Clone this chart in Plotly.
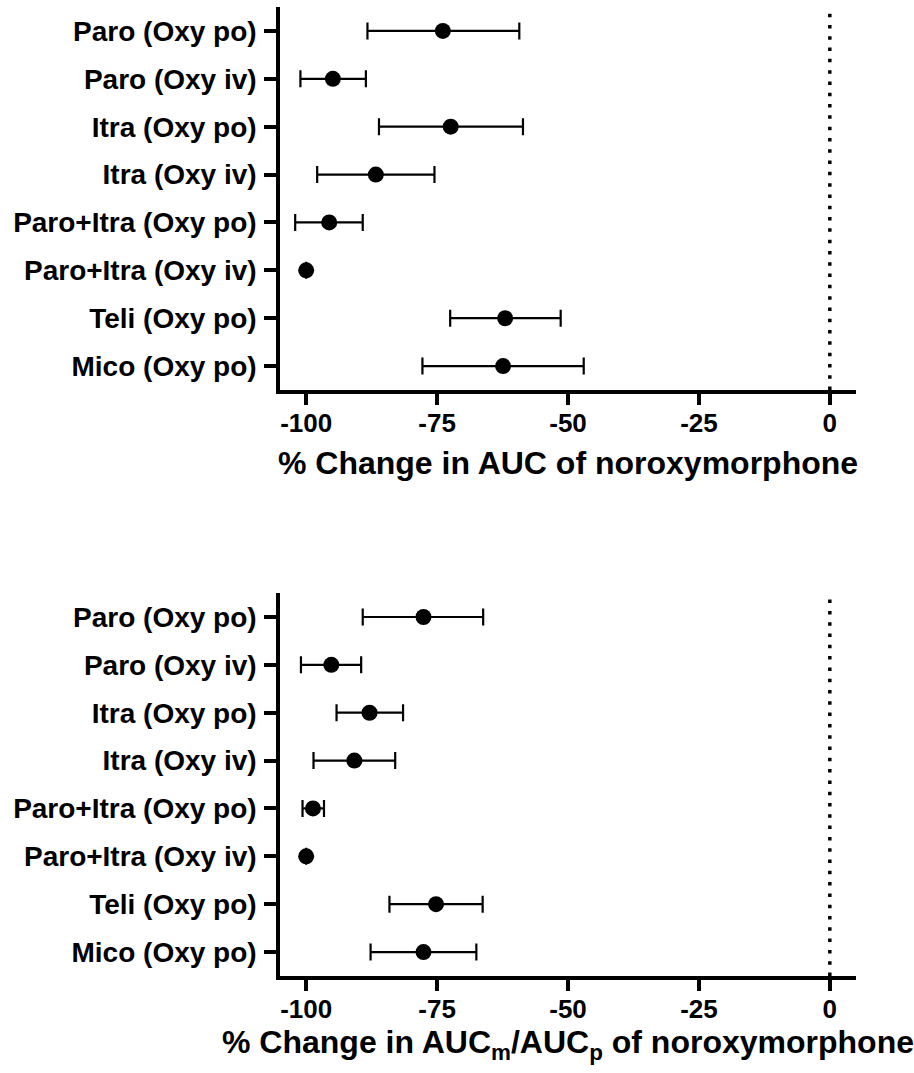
import plotly.graph_objects as go

categories = ["Paro (Oxy po)", "Paro (Oxy iv)", "Itra (Oxy po)", "Itra (Oxy iv)",
              "Paro+Itra (Oxy po)", "Paro+Itra (Oxy iv)", "Teli (Oxy po)", "Mico (Oxy po)"]

# Panel 1: % change in AUC of noroxymorphone (mean, lower CI, upper CI)
auc_mean = [-73.9, -94.9, -72.4, -86.7, -95.6, -100.0, -62.0, -62.4]
auc_low = [-88.3, -101.1, -86.1, -97.9, -102.1, None, -72.5, -77.8]
auc_high = [-59.3, -88.6, -58.6, -75.5, -89.2, None, -51.4, -47.0]

# Panel 2: % change in AUCm/AUCp of noroxymorphone
ratio_mean = [-77.6, -95.2, -87.9, -90.8, -98.7, -100.0, -75.2, -77.6]
ratio_low = [-89.2, -101.0, -94.2, -98.6, -100.7, None, -84.1, -87.7]
ratio_high = [-66.2, -89.5, -81.5, -83.0, -96.6, None, -66.3, -67.5]

x_ticks = [-100, -75, -50, -25, 0]
x_range = [-105, 5]

title1 = "% Change in AUC of noroxymorphone"
title2 = "% Change in AUC<sub>m</sub>/AUC<sub>p</sub> of noroxymorphone"


def err(mean, low, high):
    plus = [h - m if h is not None else None for m, h in zip(mean, high)]
    minus = [m - l if l is not None else None for m, l in zip(mean, low)]
    return plus, minus


fig = go.Figure()
for mean, low, high, xa, ya in [(auc_mean, auc_low, auc_high, "x", "y"),
                                (ratio_mean, ratio_low, ratio_high, "x2", "y2")]:
    plus, minus = err(mean, low, high)
    fig.add_trace(go.Scatter(
        x=mean, y=categories, mode="markers", xaxis=xa, yaxis=ya,
        marker=dict(symbol="circle", size=16, color="black"),
        error_x=dict(type="data", symmetric=False, array=plus, arrayminus=minus,
                     color="black", thickness=2.2, width=8.5),
        showlegend=False,
    ))

font_family = "Liberation Sans, Arial, sans-serif"

xcommon = dict(range=x_range, tickvals=x_ticks, ticktext=[str(v) for v in x_ticks],
               showgrid=False, zeroline=False, showline=True, linecolor="black",
               linewidth=3.5, ticks="outside", ticklen=11, tickwidth=3.5,
               tickcolor="black", tickfont=dict(size=26, color="black"),
               ticklabelstandoff=-4, fixedrange=True)
ycommon = dict(range=[7.5, -0.5], categoryorder="array", categoryarray=categories,
               showgrid=False, zeroline=False, showline=True, linecolor="black",
               linewidth=3.5, ticks="outside", ticklen=12, tickwidth=3.5,
               tickcolor="black", tickfont=dict(size=28, color="black"),
               ticklabelstandoff=2, fixedrange=True)

fig.update_layout(
    width=914, height=1073,
    margin=dict(l=280, r=58, t=7, b=97),
    paper_bgcolor="white", plot_bgcolor="white",
    font=dict(family=font_family, color="black", weight="bold"),
    xaxis=dict(domain=[0, 1], anchor="y",
               title=dict(text=title1, font=dict(size=32), standoff=16), **xcommon),
    yaxis=dict(domain=[0.6047, 1.0], anchor="x", **ycommon),
    xaxis2=dict(domain=[0, 1], anchor="y2",
                title=dict(text=title2, font=dict(size=32), standoff=8), **xcommon),
    yaxis2=dict(domain=[0.0, 0.3952], anchor="x2", **ycommon),
    shapes=[
        dict(type="line", xref="x", yref="y domain", x0=0, x1=0, y0=0, y1=1,
             line=dict(color="black", width=3.5, dash="3.5px,7.8px"), layer="below"),
        dict(type="line", xref="x2", yref="y2 domain", x0=0, x1=0, y0=0, y1=1,
             line=dict(color="black", width=3.5, dash="3.5px,7.8px"), layer="below"),
    ],
)

fig.write_html("out.html")
